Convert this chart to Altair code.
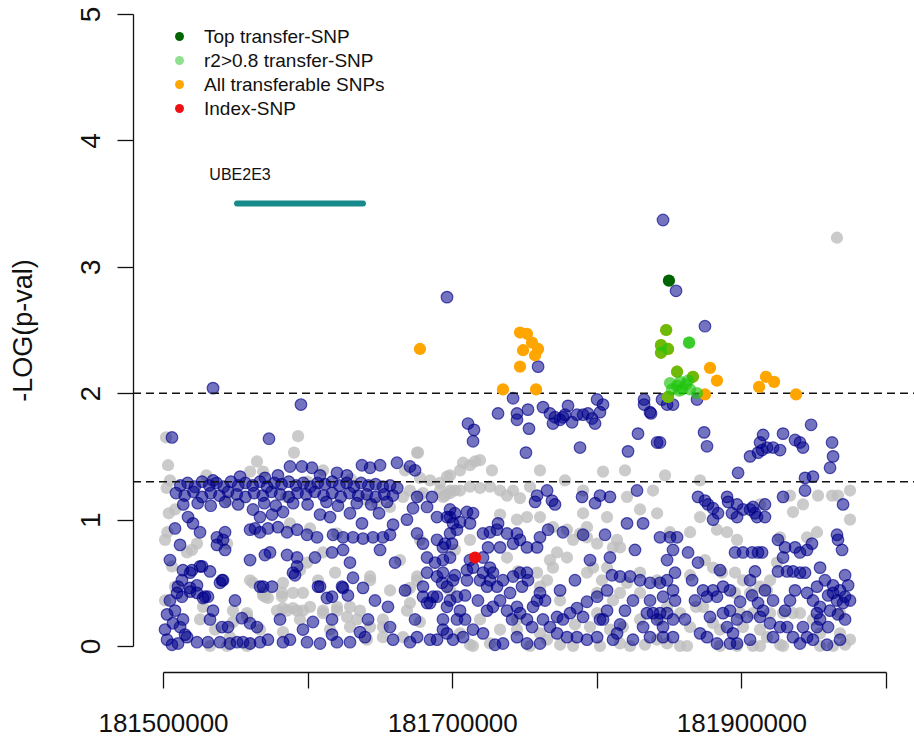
import altair as alt
import pandas as pd

FONT = "Liberation Sans"
REGION_START = 181500000  # bp; SNP positions below are kb offsets from this

# (offset kb, -log10 p) -- SNPs without transfer information (grey)
grey_snps = [
    (2.1, 1.65), (65.0, 1.46), (90.6, 1.53), (93.4, 1.66), (176.4, 1.53),
    (60.2, 1.38), (69.2, 1.38), (110.7, 1.39), (175.7, 1.53), (4.8, 1.31),
    (8.3, 1.08), (3.5, 1.43), (2.5, 1.25), (4.0, 1.05), (3.0, 0.90),
    (30.0, 1.35), (100.0, 1.30), (130.0, 1.32), (45.0, 1.15), (85.0, 1.18), (140.0, 1.16),
    (167.4, 1.39), (177.7, 1.33), (184.7, 1.31), (191.6, 1.29), (198.5, 1.35),
    (205.4, 1.39), (212.3, 1.43), (219.2, 1.47), (201.9, 1.23), (195.0, 1.19),
    (177.7, 1.19), (170.8, 1.23), (191.6, 1.23), (198.5, 1.21), (205.4, 1.23),
    (212.3, 1.26), (219.2, 1.25), (226.1, 1.26), (233.1, 1.23), (237.9, 1.19),
    (242.1, 1.23), (246.9, 1.17), (253.8, 1.26), (207.5, 1.45), (215.8, 1.46),
    (227.5, 1.39), (196.4, 1.34), (304.3, 1.38), (290.5, 1.23), (251.7, 1.02),
    (260.7, 1.02), (244.8, 1.00), (269.7, 0.94), (279.4, 0.92), (288.4, 0.89),
    (293.2, 0.86), (300.2, 0.81), (290.5, 1.05), (283.6, 0.84), (293.2, 0.94),
    (307.1, 1.02), (320.9, 1.18), (329.9, 1.08), (341.7, 1.05), (338.9, 1.23),
    (314.0, 0.84), (272.5, 0.74), (269.7, 0.62), (237.9, 0.70), (245.5, 0.59),
    (303.6, 0.52), (320.9, 0.50), (329.9, 0.58), (341.7, 0.52), (300.2, 0.42),
    (311.2, 0.36), (258.7, 0.58), (260.7, 0.47), (198.5, 0.44), (205.4, 0.10),
    (214.4, 0.00), (244.8, 0.21), (244.8, 0.13), (260.7, 0.10), (265.6, 0.05),
    (283.6, 0.00), (295.3, 0.15), (300.2, 0.26), (316.1, 0.42), (329.9, 0.42),
    (318.1, 0.15), (323.0, 0.00), (341.7, 0.05), (265.6, 0.52), (267.6, 0.68),
    (279.4, 0.70), (293.2, 0.58), (297.4, 0.62), (307.1, 0.62), (311.2, 0.78),
    (316.1, 0.78), (23.5, 0.81), (20.0, 0.76), (6.2, 0.63), (16.6, 0.74),
    (44.3, 0.81), (60.2, 0.52), (69.2, 0.40), (82.3, 0.39), (83.0, 0.30),
    (89.9, 0.30), (96.8, 0.28), (110.7, 0.26), (120.3, 0.28), (127.2, 0.23),
    (134.2, 0.21), (143.2, 0.15), (152.1, 0.15), (94.7, 0.60), (99.6, 0.66),
    (107.2, 0.52), (119.0, 0.58), (143.2, 0.52), (170.8, 0.46), (168.7, 0.28),
    (83.0, 0.50), (70.5, 0.39), (48.4, 0.28), (58.1, 0.23), (46.3, 0.07),
    (32.5, 0.00), (60.2, 0.02), (141.0, 0.05), (152.1, 0.07), (166.0, 0.07),
    (177.7, 0.19), (175.7, 0.55), (110.7, 0.74), (101.7, 0.93), (87.8, 0.97),
    (120.3, 0.89), (148.0, 1.13), (157.0, 1.10), (166.0, 1.18), (179.8, 1.21),
    (193.6, 1.18), (198.5, 1.23), (8.3, 0.47), (27.7, 0.31), (62.2, 0.50),
    (69.2, 0.42), (72.6, 0.38), (82.3, 0.42), (89.9, 0.42), (96.8, 0.42),
    (78.8, 0.28), (85.8, 0.28), (92.7, 0.28), (101.7, 0.31), (110.7, 0.28),
    (120.3, 0.31), (129.3, 0.31), (48.4, 0.19), (58.1, 0.26), (83.0, 0.11),
    (129.3, 0.15), (143.2, 0.55), (152.1, 0.21), (168.7, 0.44), (170.8, 0.34),
    (175.7, 0.52), (44.3, 0.00), (58.1, 0.00),
    (25.6, 0.21), (36.0, 0.13), (67.1, 0.13), (94.7, 0.21), (115.5, 0.13),
    (136.2, 0.28), (157.0, 0.44), (163.9, 0.68), (177.7, 0.84), (1.4, 0.84),
    (1.4, 0.36),
    (219.2, 0.21), (233.1, 0.13), (274.6, 0.36), (284.9, 0.17), (309.1, 0.13),
    (329.9, 0.21), (233.1, 1.04), (212.3, 0.84), (201.9, 0.76), (260.7, 1.39),
    (278.0, 1.31), (319.5, 1.39), (347.2, 1.35), (371.4, 1.31), (412.9, 1.12),
    (433.6, 1.19), (475.1, 1.23), (475.1, 1.00), (475.1, 0.05), (364.5, 0.56),
    (374.8, 0.68),
    (435.7, 1.06), (442.6, 1.12), (453.0, 1.19), (462.7, 1.19), (466.8, 1.19),
    (371.4, 1.02), (350.6, 0.90), (364.5, 0.90), (383.1, 0.92), (390.1, 0.90),
    (452.3, 0.90), (445.4, 0.86), (426.7, 0.86), (397.0, 0.84), (380.4, 0.62),
    (386.6, 0.58), (395.6, 0.58), (401.1, 0.52), (412.9, 0.47), (417.7, 0.44),
    (395.6, 0.42), (406.0, 0.42), (419.8, 0.52), (424.6, 0.66), (399.1, 0.26),
    (408.0, 0.26), (419.8, 0.26), (428.8, 0.26), (435.7, 0.26), (401.1, 0.15),
    (412.9, 0.13), (417.7, 0.07), (380.4, 0.18), (385.2, 0.13), (364.5, 0.15),
    (362.4, 0.00), (368.6, 0.31), (373.5, 0.31), (357.6, 0.26), (348.6, 0.31),
    (343.7, 0.21), (468.2, 0.26), (468.2, 0.10), (463.4, 0.00), (440.5, 0.26),
    (449.5, 0.21), (454.4, 0.10), (428.8, 0.00), (408.0, 0.00), (397.0, 0.00),
    (348.6, 0.02), (466.1, 3.23),
    (212.3, 0.01), (226.1, 0.02), (253.8, 0.00), (274.6, 0.01), (302.2, 0.00),
    (316.1, 0.02), (333.3, 0.01), (357.6, 0.00), (385.2, 0.00), (412.9, 0.00),
    (426.7, 0.01), (454.4, 0.00), (471.7, 0.01),
]

# (offset kb, -log10 p) -- remaining SNPs of the scan (navy)
navy_snps = [
    # isolated upper points
    (6.2, 1.65), (34.6, 2.04), (95.4, 1.91), (73.3, 1.64), (196.4, 2.76),
    (345.8, 3.37), (354.8, 2.81), (374.8, 2.53), (259.4, 2.21),
    # just below the 0.01 line
    (242.1, 1.96), (231.7, 1.84), (244.8, 1.84), (244.8, 1.79), (252.4, 1.87),
    (253.1, 1.72), (251.0, 1.53), (210.9, 1.76), (215.1, 1.71), (214.4, 1.62),
    (262.8, 1.89), (267.6, 1.84), (271.1, 1.81), (274.6, 1.79), (276.6, 1.81),
    (278.0, 1.83), (280.1, 1.90), (282.9, 1.77), (286.3, 1.83), (290.5, 1.83),
    (293.9, 1.84), (296.7, 1.80), (298.8, 1.76), (300.2, 1.95), (304.3, 1.91),
    (302.2, 1.85), (269.7, 1.76), (288.4, 1.57), (321.6, 1.54), (328.5, 1.68),
    (332.7, 1.95), (332.7, 1.91), (337.5, 1.84), (341.7, 1.61), (345.1, 1.95),
    (348.6, 1.91), (352.7, 1.91), (369.3, 1.95), (336.8, 1.85), (374.2, 1.69),
    (376.2, 1.58), (428.8, 1.68), (448.2, 1.75), (462.7, 1.61), (463.4, 1.50),
    (461.3, 1.41), (406.0, 1.50), (412.9, 1.61), (415.0, 1.67), (411.5, 1.53),
    (414.3, 1.55), (417.7, 1.57), (421.9, 1.57), (426.7, 1.55), (437.1, 1.63),
    (440.5, 1.61), (442.6, 1.57), (397.7, 1.37), (444.0, 1.33), (444.0, 1.23),
    (449.5, 1.34), (428.8, 1.18), (470.3, 1.12), (343.7, 1.61),
    # right block, around the 0.05 line
    (370.0, 1.18), (374.8, 1.15), (376.9, 1.12), (380.4, 1.09), (390.1, 1.18),
    (390.8, 1.14), (383.8, 1.05), (380.4, 1.00), (393.5, 1.05), (397.0, 1.12),
    (397.0, 1.02), (401.1, 1.08), (406.0, 1.08), (409.4, 1.05), (408.0, 1.10),
    (416.3, 1.12), (416.3, 1.02), (410.8, 1.02),
    # middle block
    (265.6, 1.23), (269.0, 1.15), (271.1, 1.12), (257.3, 1.14), (258.7, 1.19),
    (289.8, 1.18), (298.8, 1.13), (302.2, 1.19), (309.1, 1.18), (327.8, 1.23),
    (196.4, 1.02), (201.9, 1.05), (210.2, 1.06), (214.4, 1.05), (205.4, 0.98),
    (212.3, 0.97), (198.5, 0.89), (199.9, 0.81), (193.6, 0.78), (198.5, 0.70),
    (221.3, 0.89), (226.1, 0.90), (231.0, 0.92), (231.7, 0.97), (224.8, 0.78),
    (233.1, 0.78), (237.9, 0.89), (244.8, 0.89), (246.9, 0.84), (242.1, 0.81),
    (251.7, 0.78), (258.7, 0.78), (260.7, 0.86), (266.3, 0.92), (276.6, 0.90),
    (290.5, 0.88), (305.7, 0.88), (309.1, 0.70), (320.9, 0.97), (332.0, 0.97),
    (326.4, 0.76), (310.5, 0.56), (316.1, 0.55), (323.0, 0.55), (329.9, 0.52),
    (336.8, 0.50), (343.7, 0.50), (348.6, 0.52), (307.1, 0.44), (300.2, 0.39),
    (293.2, 0.35), (286.3, 0.30), (307.1, 0.28), (304.3, 0.21), (300.2, 0.07),
    (311.2, 0.05), (314.0, 0.10), (334.7, 0.26), (338.9, 0.26), (343.7, 0.26),
    (348.6, 0.26), (341.7, 0.21), (332.0, 0.15), (336.8, 0.07), (345.8, 0.07),
    (325.0, 0.05), (319.5, 0.28), (325.0, 0.36), (336.8, 0.36),
    (221.3, 0.70), (226.1, 0.62), (221.3, 0.58), (219.2, 0.52), (228.2, 0.58),
    (226.1, 0.52), (224.1, 0.47), (231.0, 0.47), (235.1, 0.52), (242.1, 0.55),
    (246.9, 0.58), (251.7, 0.58), (252.4, 0.52), (248.3, 0.47), (240.0, 0.42),
    (233.1, 0.36), (228.2, 0.31), (224.1, 0.28), (237.9, 0.28), (244.8, 0.31),
    (246.9, 0.26), (251.7, 0.21), (255.2, 0.15), (262.8, 0.21), (267.6, 0.15),
    (272.5, 0.23), (276.6, 0.21), (281.5, 0.26), (290.5, 0.23), (272.5, 0.10),
    (279.4, 0.07), (286.3, 0.07), (293.2, 0.05), (260.7, 0.02), (251.7, 0.02),
    (244.8, 0.07), (235.1, 0.02), (229.6, 0.01), (221.3, 0.10), (214.4, 0.13),
    (207.5, 0.07), (200.6, 0.05), (196.4, 0.10), (193.6, 0.21), (203.3, 0.21),
    (208.9, 0.21), (205.4, 0.28), (198.5, 0.36), (203.3, 0.39), (196.4, 0.47),
    (193.6, 0.58), (200.6, 0.52), (210.2, 0.60), (214.4, 0.62), (210.2, 0.52),
    (258.7, 0.36), (260.7, 0.42), (255.9, 0.31),
    (212.3, 0.68), (201.9, 0.56), (217.8, 0.36), (208.9, 0.40), (241.4, 0.21),
    (264.2, 0.36), (274.6, 0.44), (284.9, 0.52), (295.3, 0.68), (302.2, 0.21),
    (316.1, 0.17), (361.0, 0.21), (367.9, 0.36), (385.2, 0.60), (392.1, 0.44),
    (416.3, 0.44), (430.2, 0.28), (437.1, 0.44), (454.4, 0.21), (471.7, 0.21),
    (473.8, 0.48),
    # right block, lower part
    (350.6, 0.86), (343.7, 0.86), (352.7, 0.76), (348.6, 0.68), (363.1, 0.74),
    (370.0, 0.66), (355.5, 0.86), (395.6, 0.74), (401.1, 0.74), (407.4, 0.74),
    (411.5, 0.74), (414.3, 0.74), (425.3, 0.84), (430.2, 0.78), (428.8, 0.70),
    (437.1, 0.78), (440.5, 0.74), (445.4, 0.76), (448.8, 0.81), (466.1, 0.88),
    (466.8, 0.84), (469.6, 0.76), (354.1, 0.58), (365.9, 0.52), (373.5, 0.44),
    (380.4, 0.44), (387.3, 0.47), (376.2, 0.39), (383.1, 0.39), (352.7, 0.44),
    (345.8, 0.39), (354.1, 0.36), (352.7, 0.21), (345.8, 0.15), (352.7, 0.07),
    (399.1, 0.35), (406.0, 0.52), (409.4, 0.59), (407.4, 0.40), (411.5, 0.34),
    (421.9, 0.36), (425.3, 0.59), (431.6, 0.59), (435.7, 0.59), (440.5, 0.58),
    (444.0, 0.58), (433.6, 0.36), (445.4, 0.42), (452.3, 0.47), (454.4, 0.62),
    (457.8, 0.52), (463.4, 0.48), (468.2, 0.44), (471.7, 0.39), (466.1, 0.36),
    (461.3, 0.28), (454.4, 0.31), (449.5, 0.36), (452.3, 0.26), (470.3, 0.34),
    (463.4, 0.42), (471.7, 0.56), (475.1, 0.36), (466.8, 0.25), (460.0, 0.40),
    (378.3, 0.23), (387.3, 0.26), (392.1, 0.28), (397.0, 0.21), (403.9, 0.23),
    (412.9, 0.23), (415.0, 0.28), (419.8, 0.18), (390.1, 0.15), (394.2, 0.10),
    (371.4, 0.10), (376.2, 0.07), (383.1, 0.02), (392.1, 0.02), (397.0, 0.02),
    (406.0, 0.05), (421.9, 0.07), (426.7, 0.15), (431.6, 0.15), (435.7, 0.07),
    (440.5, 0.02), (445.4, 0.07), (449.5, 0.05), (459.2, 0.01), (442.6, 0.15),
    (452.3, 0.15), (459.9, 0.15), (468.2, 0.05),
    # left block: dense band just under the 0.05 line
    (12, 1.27), (17, 1.29), (22, 1.26), (27, 1.30), (32, 1.27), (37, 1.29),
    (42, 1.26), (47, 1.30), (52, 1.27), (57, 1.29), (62, 1.27), (67, 1.30),
    (72, 1.26), (77, 1.29), (82, 1.28), (87, 1.30), (92, 1.27), (97, 1.29),
    (102, 1.26), (107, 1.29), (112, 1.28), (117, 1.30), (122, 1.27), (127, 1.29),
    (132, 1.26), (137, 1.29), (142, 1.27), (147, 1.28), (152, 1.26), (157, 1.27),
    (162, 1.25),
    (9, 1.21), (15, 1.19), (21, 1.22), (27, 1.18), (33, 1.21), (39, 1.19),
    (45, 1.22), (51, 1.20), (57, 1.18), (63, 1.21), (69, 1.19), (75, 1.22),
    (81, 1.20), (87, 1.18), (93, 1.21), (99, 1.20), (105, 1.22), (111, 1.19),
    (117, 1.21), (123, 1.18), (129, 1.21), (135, 1.19), (141, 1.20), (147, 1.18),
    (153, 1.20), (159, 1.19),
    (14, 1.12), (24, 1.13), (33, 1.11), (43, 1.14), (52, 1.12), (70, 1.13),
    (78, 1.11), (90, 1.13), (100, 1.12), (113, 1.14), (121, 1.11), (134, 1.13),
    (144, 1.12), (155, 1.14),
    (34.6, 1.31), (53.3, 1.34), (70.5, 1.33), (79.5, 1.35), (87.8, 1.42),
    (96.1, 1.42), (103.0, 1.41), (108.6, 1.35), (120.3, 1.37), (127.2, 1.35),
    (137.6, 1.43), (143.2, 1.41), (150.1, 1.43), (161.8, 1.45), (170.8, 1.42),
    (174.3, 1.39), (175.7, 1.18), (182.6, 1.10), (189.5, 1.02), (198.5, 1.08),
    (186.0, 1.18),
    # left block: rows below the band
    (17.3, 1.02), (20.7, 0.97), (25.6, 0.90), (8.3, 0.93), (37.3, 0.86),
    (42.9, 0.90), (41.5, 0.84), (62.2, 1.08), (67.1, 1.02), (75.4, 1.04),
    (83.0, 1.06), (108.6, 1.04), (115.5, 1.02), (129.3, 1.05), (137.6, 0.97),
    (159.1, 0.96), (168.7, 1.00), (172.9, 1.09), (149.4, 1.05),
    (60.2, 0.92), (63.6, 0.93), (67.1, 0.90), (72.6, 0.93), (79.5, 0.94),
    (85.8, 0.90), (92.7, 0.92), (99.6, 0.88), (106.5, 0.86), (117.6, 0.88),
    (124.5, 0.86), (131.4, 0.86), (138.3, 0.85), (145.2, 0.86), (152.1, 0.86),
    (157.0, 0.88),
    (70.5, 0.72), (74.0, 0.74), (85.8, 0.72), (92.7, 0.70), (105.1, 0.70),
    (116.9, 0.74), (124.5, 0.76), (129.3, 0.66), (150.1, 0.76), (160.5, 0.66),
    (92.7, 0.63), (89.9, 0.58), (37.3, 0.80), (42.9, 0.76),
    (13.8, 0.60), (20.0, 0.60), (27.0, 0.63), (32.5, 0.59), (40.8, 0.52),
    (39.4, 0.50), (13.1, 0.52), (10.4, 0.47), (18.7, 0.46), (23.5, 0.42),
    (27.7, 0.38), (31.1, 0.39), (4.8, 0.36), (13.1, 0.39), (67.1, 0.47),
    (75.4, 0.47), (108.6, 0.47), (116.9, 0.39), (124.5, 0.46), (131.4, 0.54),
    (138.3, 0.46), (127.9, 0.40), (155.6, 0.31), (182.6, 0.70), (188.1, 0.66),
    (193.6, 0.68), (182.6, 0.58), (189.5, 0.55), (193.0, 0.50),
    (179.8, 0.39), (184.7, 0.34), (189.5, 0.39), (196.4, 0.31), (175.7, 0.89),
    (179.8, 0.81), (189.5, 0.84), (195.0, 0.81), (200.6, 0.97), (198.5, 1.02),
    (203.3, 0.92),
    (4.8, 0.68), (11.8, 0.80), (49.8, 0.36), (60.2, 0.68), (80.9, 0.21),
    (87.8, 0.05), (146.6, 0.36), (167.4, 0.44), (174.3, 0.21), (184.7, 0.05),
    # left block: near the baseline
    (2.8, 0.05), (6.9, 0.18), (11.8, 0.15), (13.8, 0.21), (16.6, 0.07),
    (9.7, 0.42), (18.7, 0.43), (23.5, 0.48), (29.0, 0.39), (34.6, 0.28),
    (32.5, 0.21), (40.8, 0.15), (23.5, 0.03), (31.1, 0.03), (39.4, 0.03),
    (46.3, 0.02), (51.2, 0.03), (55.3, 0.03), (60.2, 0.02), (67.1, 0.03),
    (72.6, 0.05), (83.0, 0.03), (54.6, 0.22), (60.2, 0.18), (65.0, 0.15),
    (45.0, 0.15), (41.5, 0.52), (25.6, 0.63), (18.7, 0.58), (69.2, 0.47),
    (91.3, 0.56), (107.2, 0.47), (113.4, 0.38), (123.8, 0.47), (103.7, 0.19),
    (96.8, 0.13), (99.6, 0.03), (108.6, 0.02), (116.9, 0.21), (116.9, 0.09),
    (120.3, 0.03), (129.3, 0.03), (136.2, 0.11), (141.8, 0.21), (139.7, 0.07),
    (157.0, 0.15), (159.1, 0.05), (170.8, 0.03), (179.8, 0.47), (182.6, 0.34),
    (186.7, 0.39), (175.7, 0.07), (189.5, 0.05), (193.6, 0.13), (1.4, 0.13),
    (6.2, 0.01), (10.4, 0.02), (15.2, 0.09), (8.3, 0.28), (2.8, 0.25),
]

# transfer categories (offset kb, -log10 p)
transferable_snps = [
    (177.7, 2.35), (246.9, 2.48), (251.7, 2.47), (255.2, 2.40), (259.4, 2.35),
    (249.0, 2.34), (257.3, 2.30), (246.9, 2.21), (235.1, 2.03), (258.0, 2.03),
    (378.3, 2.20), (383.1, 2.10), (374.8, 1.99), (417.0, 2.13), (422.6, 2.09),
    (412.2, 2.05), (437.8, 1.99), (348.0, 2.50), (344.4, 2.38), (349.3, 2.35),
    (344.4, 2.32), (355.5, 2.17), (366.5, 2.13), (349.3, 1.97),
]
r2_transfer_snps = [
    (348.0, 2.50), (344.4, 2.38), (349.3, 2.35), (344.4, 2.32), (363.8, 2.40),
    (363.8, 2.40), (355.5, 2.17), (350.6, 2.08), (357.6, 2.09), (363.1, 2.10),
    (366.5, 2.13), (352.0, 2.03), (359.0, 2.03), (364.5, 2.03), (369.3, 2.00),
    (349.3, 1.97), (355.5, 2.06), (361.7, 2.07), (357.0, 2.02),
]
top_transfer_snp = [(349.9, 2.89)]
index_snp = [(215.8, 0.70)]

# significance thresholds (-log10 of 0.01 and 0.05)
thresholds = [2.0, 1.3]

# gene track: name, start/end offsets (kb), track height and label height
gene_name = "UBE2E3"
gene_start_kb, gene_end_kb = 51.2, 138.3
gene_track_y, gene_label_y = 3.5, 3.73

legend_order = ["Top transfer-SNP", "r2>0.8 transfer-SNP",
                "All transferable SNPs", "Index-SNP"]
legend_colors = ["#006400", "#8fe08f", "#ffa500", "#ee1111"]
r2_color = "#1fc40c"


def frame(pairs, category=None):
    df = pd.DataFrame(pairs, columns=["off_kb", "logp"])
    df["pos"] = REGION_START + df["off_kb"] * 1000
    if category is not None:
        df["category"] = category
    return df


grey_df = frame(grey_snps)
navy_df = frame(navy_snps)
special_df = pd.concat([
    frame(transferable_snps, "All transferable SNPs"),
    frame(top_transfer_snp, "Top transfer-SNP"),
    frame(index_snp, "Index-SNP"),
], ignore_index=True)
r2_df = frame(r2_transfer_snps, "r2>0.8 transfer-SNP")
thr_df = pd.DataFrame({"thr": thresholds})
gene_df = pd.DataFrame({
    "name": [gene_name],
    "start": [REGION_START + gene_start_kb * 1000],
    "end": [REGION_START + gene_end_kb * 1000],
    "y": [gene_track_y],
    "label_y": [gene_label_y],
})

x_scale = alt.Scale(domain=[181500000, 182000000], nice=False, zero=False)
y_scale = alt.Scale(domain=[0, 5], nice=False)

x_axis = alt.Axis(
    values=[181500000, 181600000, 181700000, 181800000, 181900000, 182000000],
    labelExpr="(datum.value - 181500000) % 200000 == 0 ? format(datum.value, 'd') : ''",
    offset=26, tickSize=16, labelPadding=22, labelFontSize=26, labelFont=FONT,
    labelColor="#111111", domainColor="#111111", tickColor="#111111",
    domainWidth=1.3, tickWidth=1.3, grid=False, title=None, labelFlush=False,
)
y_axis = alt.Axis(
    values=[0, 1, 2, 3, 4, 5], offset=30, tickSize=16, labelAngle=-90,
    labelAlign="center", labelBaseline="bottom", labelPadding=12,
    labelFontSize=28, labelFont=FONT, labelColor="#111111",
    domainColor="#111111", tickColor="#111111", domainWidth=1.3, tickWidth=1.3,
    grid=False, title="-LOG(p-val)", titleFont=FONT, titleFontSize=27,
    titleFontWeight="normal", titleColor="#111111", titlePadding=40,
)


def X(field):
    return alt.X(field, type="quantitative", scale=x_scale, axis=x_axis)


def Y(field):
    return alt.Y(field, type="quantitative", scale=y_scale, axis=y_axis)


grey_layer = alt.Chart(grey_df).mark_circle(
    size=150, color="#bebebe", opacity=0.8
).encode(x=X("pos"), y=Y("logp"))

navy_layer = alt.Chart(navy_df).mark_circle(
    size=135, fill="#00008b", fillOpacity=0.55,
    stroke="#00008b", strokeOpacity=0.65, strokeWidth=1.2,
).encode(x=X("pos"), y=Y("logp"))

thr_layer = alt.Chart(thr_df).mark_rule(
    color="#111111", strokeWidth=1.6, strokeDash=[8, 5]
).encode(x=alt.value(-30), x2=alt.value(760), y=Y("thr"))

legend = alt.Legend(
    title=None, orient="none", legendX=7, legendY=13, padding=0,
    labelFont=FONT, labelFontSize=19, labelColor="#111111", labelLimit=0,
    symbolType="circle", symbolSize=80, symbolStrokeWidth=0, symbolOpacity=1,
    rowPadding=4, labelOffset=15,
)
special_layer = alt.Chart(special_df).mark_circle(size=150, opacity=1).encode(
    x=X("pos"), y=Y("logp"),
    color=alt.Color("category:N", scale=alt.Scale(domain=legend_order,
                                                  range=legend_colors),
                    legend=legend),
)

# r2>0.8 SNPs are translucent, so they tint the orange points underneath
r2_layer = alt.Chart(r2_df).mark_circle(
    size=150, color=r2_color, opacity=0.65
).encode(x=X("pos"), y=Y("logp"))

gene_bar = alt.Chart(gene_df).mark_rule(
    color="#178b8b", strokeWidth=6, strokeCap="round"
).encode(x=X("start"), x2="end", y=Y("y"))

gene_label = alt.Chart(gene_df).mark_text(
    font=FONT, fontSize=16, color="#111111", align="center",
    baseline="middle", dx=3,
).encode(x=X("start"), y=Y("label_y"), text="name:N")

chart = alt.layer(
    grey_layer, navy_layer, thr_layer, special_layer, r2_layer,
    gene_bar, gene_label
).properties(
    width=723, height=632,
    autosize=alt.AutoSizeParams(type="none"),
    padding={"left": 163, "top": 14, "right": 28, "bottom": 98},
    background="white",
).configure_view(stroke="transparent")

chart.save("out.html", embed_options={"renderer": "svg", "actions": False})
